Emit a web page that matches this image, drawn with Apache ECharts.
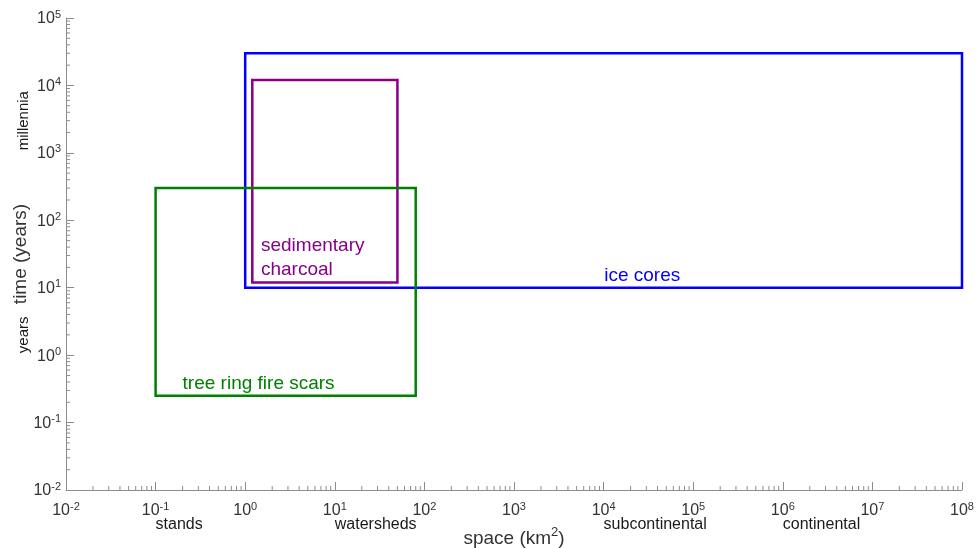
<!DOCTYPE html>
<html><head><meta charset="utf-8">
<script src="https://cdn.jsdelivr.net/npm/echarts@6/dist/echarts.min.js"></script>
<style>html,body{margin:0;padding:0;background:#fff}#c{width:977px;height:548px}</style>
</head><body><div id="c"></div>
<script>
// ---- data ----
const boxNames = ['ice cores', 'sedimentary charcoal', 'tree ring fire scars'];
const boxXMin = [1, 1.2, 0.1];
const boxXMax = [1e8, 50, 80];
const boxYMin = [10, 12, 0.25];
const boxYMax = [3e4, 1.2e4, 300];
const boxColors = ['#0000ff', '#870087', '#008000'];
const boxLabelText = ['ice cores', 'sedimentary\ncharcoal', 'tree ring fire scars'];
const boxLabelX = [2.7e4, 1.5, 0.2];
const boxLabelY = [15, 28, 0.37];
const boxLabelAlign = ['center', 'left', 'left'];

const xTickExps = [-2, -1, 0, 1, 2, 3, 4, 5, 6, 7, 8];
const yTickExps = [-2, -1, 0, 1, 2, 3, 4, 5];
const minorMantissas = [2, 3, 4, 5, 6, 7, 8, 9];

const spaceScaleNames = ['stands', 'watersheds', 'subcontinental', 'continental'];
const spaceScaleAt = [0.1, 10, 1e4, 1e6];
const timeScaleNames = ['millennia', 'years'];
const timeScaleAt = [3000, 2];

// ---- build ----
const FONT = 'Liberation Sans, Arial, sans-serif';
const LBL = '#333333';
const AX = '#8c8c8c';
const xMinorTicks = [], yMinorTicks = [];
for (let i = 0; i < xTickExps.length - 1; i++) minorMantissas.forEach(m => xMinorTicks.push([m * Math.pow(10, xTickExps[i])]));
for (let i = 0; i < yTickExps.length - 1; i++) minorMantissas.forEach(m => yMinorTicks.push([m * Math.pow(10, yTickExps[i])]));
const xMin = Math.pow(10, xTickExps[0]), xMax = Math.pow(10, xTickExps[xTickExps.length - 1]);
const yMin = Math.pow(10, yTickExps[0]), yMax = Math.pow(10, yTickExps[yTickExps.length - 1]);

const supRich = {
  b: { fontSize: 16, color: LBL, fontFamily: FONT, lineHeight: 18, verticalAlign: 'bottom' },
  s: { fontSize: 11, color: LBL, fontFamily: FONT, lineHeight: 12, verticalAlign: 'top' }
};
const supFmt = v => '{b|10}{s|' + Math.round(Math.log10(v)) + '}';

const chart = echarts.init(document.getElementById('c'), null, { renderer: 'canvas' });
chart.setOption({
  animation: false,
  backgroundColor: '#fff',
  grid: { left: 66, right: 15, top: 18, bottom: 58, containLabel: false, outerBoundsMode: 'none' },
  xAxis: {
    type: 'log', logBase: 10, min: xMin, max: xMax, interval: 1,
    axisLine: { lineStyle: { color: AX, width: 1 } },
    axisTick: { inside: true, length: 8, lineStyle: { color: AX } },
    minorTick: { show: false },
    splitLine: { show: false },
    axisLabel: { formatter: supFmt, rich: supRich, margin: 11, lineHeight: 26, hideOverlap: false, showMinLabel: true, showMaxLabel: true },
    name: '{t|space (km}{s|2}{t|)}', nameLocation: 'middle', nameGap: 36, nameMoveOverlap: false,
    nameTextStyle: { lineHeight: 26, rich: {
      t: { fontSize: 19, color: LBL, fontFamily: FONT, lineHeight: 22, verticalAlign: 'bottom' },
      s: { fontSize: 13, color: LBL, fontFamily: FONT, lineHeight: 13, verticalAlign: 'top' }
    } }
  },
  yAxis: {
    type: 'log', logBase: 10, min: yMin, max: yMax, interval: 1,
    axisLine: { show: true, lineStyle: { color: AX, width: 1 } },
    axisTick: { show: true, inside: true, length: 8, lineStyle: { color: AX } },
    splitLine: { show: false },
    axisLabel: { formatter: supFmt, rich: supRich, margin: 5, lineHeight: 26, hideOverlap: false, showMinLabel: true, showMaxLabel: true },
    name: 'time (years)', nameLocation: 'middle', nameGap: 36, nameMoveOverlap: false,
    nameTextStyle: { fontSize: 19, color: LBL, fontFamily: FONT }
  },
  series: [
    {
      type: 'custom', name: 'boxes',
      data: boxNames.map((n, i) => [boxXMin[i], boxXMax[i], boxYMin[i], boxYMax[i], i]),
      renderItem: (params, api) => {
        const p0 = api.coord([api.value(0), api.value(2)]);
        const p1 = api.coord([api.value(1), api.value(3)]);
        const i = api.value(4);
        return { type: 'rect', shape: { x: p0[0], y: p1[1], width: p1[0] - p0[0], height: p0[1] - p1[1] },
          style: { fill: 'none', stroke: boxColors[i], lineWidth: 2.5 } };
      }
    },
    {
      type: 'custom', name: 'boxLabels',
      data: boxNames.map((n, i) => [boxLabelX[i], boxLabelY[i], i]),
      renderItem: (params, api) => {
        const p = api.coord([api.value(0), api.value(1)]);
        const i = api.value(2);
        return { type: 'text', x: p[0], y: p[1],
          style: { text: boxLabelText[i], fill: boxColors[i], fontSize: 19, fontFamily: FONT,
            align: boxLabelAlign[i], verticalAlign: 'middle', lineHeight: 24 } };
      }
    },
    {
      type: 'custom', name: 'xMinor', data: xMinorTicks,
      renderItem: (params, api) => {
        const p = api.coord([api.value(0), yMin]);
        return { type: 'line', shape: { x1: p[0], y1: p[1], x2: p[0], y2: p[1] - 4 }, style: { stroke: AX, lineWidth: 1 } };
      }
    },
    {
      type: 'custom', name: 'yMinor', data: yMinorTicks.map(v => [xMin, v[0]]),
      renderItem: (params, api) => {
        const p = api.coord([xMin, api.value(1)]);
        return { type: 'line', shape: { x1: p[0], y1: p[1], x2: p[0] + 4, y2: p[1] }, style: { stroke: AX, lineWidth: 1 } };
      }
    },
    {
      type: 'custom', name: 'spaceScales',
      data: spaceScaleNames.map((n, i) => [spaceScaleAt[i], yMin, i]),
      renderItem: (params, api) => {
        const p = api.coord([api.value(0), api.value(1)]);
        return { type: 'text', x: p[0], y: p[1] + 35,
          style: { text: spaceScaleNames[api.value(2)], fill: '#1a1a1a', fontSize: 16, fontFamily: FONT,
            align: 'left', verticalAlign: 'middle' } };
      }
    },
    {
      type: 'custom', name: 'timeScales',
      data: timeScaleNames.map((n, i) => [xMin, timeScaleAt[i], i]),
      renderItem: (params, api) => {
        const p = api.coord([api.value(0), api.value(1)]);
        return { type: 'text', x: p[0] - 42, y: p[1], rotation: Math.PI / 2,
          style: { text: timeScaleNames[api.value(2)], fill: '#1a1a1a', fontSize: 15, fontFamily: FONT,
            align: 'center', verticalAlign: 'middle' } };
      }
    }
  ]
});
</script></body></html>
